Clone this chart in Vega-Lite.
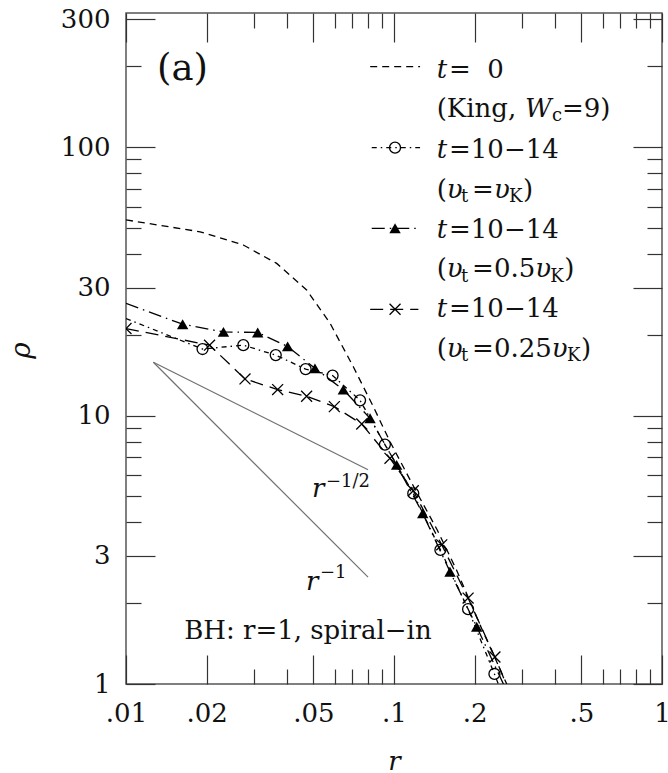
{
  "$schema": "https://vega.github.io/schema/vega-lite/v6.json",
  "width": 536,
  "height": 671,
  "autosize": {"type": "none"},
  "padding": {"left": 126, "top": 13, "right": 6, "bottom": 89},
  "background": "white",
  "config": {
    "view": {"stroke": "#555555", "strokeWidth": 1.5},
    "axis": {"grid": false, "domain": false}
  },
  "datasets": {
    "curves": [
      {"s": "t0", "p": "d", "x": 0.01, "y": 53.6, "m": 0},
      {"s": "t0", "p": "d", "x": 0.0189, "y": 48.4, "m": 0},
      {"s": "t0", "p": "d", "x": 0.0274, "y": 43.2, "m": 0},
      {"s": "t0", "p": "d", "x": 0.0365, "y": 36.9, "m": 0},
      {"s": "t0", "p": "d", "x": 0.0472, "y": 29.4, "m": 0},
      {"s": "t0", "p": "d", "x": 0.0577, "y": 22.1, "m": 0},
      {"s": "t0", "p": "d", "x": 0.0705, "y": 15.2, "m": 0},
      {"s": "t0", "p": "d", "x": 0.0837, "y": 10.8, "m": 0},
      {"s": "t0", "p": "d", "x": 0.0966, "y": 8.0, "m": 0},
      {"s": "t0", "p": "d", "x": 0.12, "y": 5.3, "m": 0},
      {"s": "t0", "p": "d", "x": 0.145, "y": 3.75, "m": 0},
      {"s": "t0", "p": "d", "x": 0.1714, "y": 2.65, "m": 0},
      {"s": "t0", "p": "d", "x": 0.21, "y": 1.65, "m": 0},
      {"s": "t0", "p": "d", "x": 0.2634, "y": 1.0, "m": 0},
      {"s": "t0", "p": "k", "x": 0.0815, "y": 199.5, "m": 0},
      {"s": "t0", "p": "k", "x": 0.1251, "y": 199.5, "m": 0},

      {"s": "circ", "p": "d", "x": 0.01, "y": 23.0, "m": 0},
      {"s": "circ", "p": "d", "x": 0.0193, "y": 17.7, "m": 1},
      {"s": "circ", "p": "d", "x": 0.0274, "y": 18.3, "m": 1},
      {"s": "circ", "p": "d", "x": 0.0362, "y": 16.8, "m": 1},
      {"s": "circ", "p": "d", "x": 0.0468, "y": 14.9, "m": 1},
      {"s": "circ", "p": "d", "x": 0.059, "y": 14.1, "m": 1},
      {"s": "circ", "p": "d", "x": 0.0747, "y": 11.4, "m": 1},
      {"s": "circ", "p": "d", "x": 0.0925, "y": 7.8, "m": 1},
      {"s": "circ", "p": "d", "x": 0.118, "y": 5.13, "m": 1},
      {"s": "circ", "p": "d", "x": 0.149, "y": 3.16, "m": 1},
      {"s": "circ", "p": "d", "x": 0.189, "y": 1.9, "m": 1},
      {"s": "circ", "p": "d", "x": 0.237, "y": 1.09, "m": 1},
      {"s": "circ", "p": "d", "x": 0.245, "y": 1.0, "m": 0},
      {"s": "circ", "p": "k", "x": 0.0826, "y": 99.57, "m": 0},
      {"s": "circ", "p": "k", "x": 0.1009, "y": 99.57, "m": 1},
      {"s": "circ", "p": "k", "x": 0.1251, "y": 99.57, "m": 0},

      {"s": "tri", "p": "d", "x": 0.01, "y": 26.2, "m": 0},
      {"s": "tri", "p": "d", "x": 0.01627, "y": 21.9, "m": 1},
      {"s": "tri", "p": "d", "x": 0.0231, "y": 20.5, "m": 1},
      {"s": "tri", "p": "d", "x": 0.031, "y": 20.4, "m": 1},
      {"s": "tri", "p": "d", "x": 0.0401, "y": 18.1, "m": 1},
      {"s": "tri", "p": "d", "x": 0.0507, "y": 15.0, "m": 1},
      {"s": "tri", "p": "d", "x": 0.0647, "y": 12.5, "m": 1},
      {"s": "tri", "p": "d", "x": 0.0814, "y": 9.77, "m": 1},
      {"s": "tri", "p": "d", "x": 0.1023, "y": 6.55, "m": 1},
      {"s": "tri", "p": "d", "x": 0.128, "y": 4.32, "m": 1},
      {"s": "tri", "p": "d", "x": 0.1618, "y": 2.62, "m": 1},
      {"s": "tri", "p": "d", "x": 0.2035, "y": 1.635, "m": 1},
      {"s": "tri", "p": "d", "x": 0.256, "y": 1.0, "m": 0},
      {"s": "tri", "p": "k", "x": 0.0826, "y": 49.87, "m": 0},
      {"s": "tri", "p": "k", "x": 0.1009, "y": 49.87, "m": 1},
      {"s": "tri", "p": "k", "x": 0.1251, "y": 49.87, "m": 0},

      {"s": "cross", "p": "d", "x": 0.01, "y": 21.1, "m": 1},
      {"s": "cross", "p": "d", "x": 0.0205, "y": 18.3, "m": 1},
      {"s": "cross", "p": "d", "x": 0.0278, "y": 13.7, "m": 1},
      {"s": "cross", "p": "d", "x": 0.0368, "y": 12.5, "m": 1},
      {"s": "cross", "p": "d", "x": 0.0472, "y": 11.8, "m": 1},
      {"s": "cross", "p": "d", "x": 0.0599, "y": 10.8, "m": 1},
      {"s": "cross", "p": "d", "x": 0.0758, "y": 9.3, "m": 1},
      {"s": "cross", "p": "d", "x": 0.0966, "y": 6.93, "m": 1},
      {"s": "cross", "p": "d", "x": 0.118, "y": 5.25, "m": 1},
      {"s": "cross", "p": "d", "x": 0.1507, "y": 3.3, "m": 1},
      {"s": "cross", "p": "d", "x": 0.189, "y": 2.09, "m": 1},
      {"s": "cross", "p": "d", "x": 0.238, "y": 1.26, "m": 1},
      {"s": "cross", "p": "d", "x": 0.262, "y": 1.0, "m": 0},
      {"s": "cross", "p": "k", "x": 0.0815, "y": 24.89, "m": 0},
      {"s": "cross", "p": "k", "x": 0.1009, "y": 24.89, "m": 1},
      {"s": "cross", "p": "k", "x": 0.1233, "y": 24.89, "m": 0}
    ],
    "power": [
      {"name": "half", "x": 0.01265, "y": 15.8},
      {"name": "half", "x": 0.08, "y": 6.28},
      {"name": "one", "x": 0.01265, "y": 15.8},
      {"name": "one", "x": 0.08, "y": 2.5}
    ],
    "notes": [
      {"k": "it", "t": "t", "x": 0.14434, "y": 181.8},
      {"k": "rm", "t": "=", "x": 0.16044, "y": 181.8},
      {"k": "rm", "t": "0", "x": 0.22291, "y": 181.8},
      {"k": "rm", "t": "(King,", "x": 0.14434, "y": 129.6},
      {"k": "it", "t": "W", "x": 0.30819, "y": 129.6},
      {"k": "sm", "t": "c", "x": 0.38848, "y": 124.7},
      {"k": "rm", "t": "=9)", "x": 0.42344, "y": 129.6},

      {"k": "it", "t": "t", "x": 0.14434, "y": 91.15},
      {"k": "rm", "t": "=10−14", "x": 0.16044, "y": 91.15},
      {"k": "rm", "t": "(", "x": 0.14434, "y": 64.78},
      {"k": "it", "t": "υ", "x": 0.1573, "y": 64.78},
      {"k": "sm", "t": "t", "x": 0.17783, "y": 62.33},
      {"k": "rm", "t": "=", "x": 0.19546, "y": 64.78},
      {"k": "it", "t": "υ", "x": 0.23604, "y": 64.78},
      {"k": "sm", "t": "K", "x": 0.26855, "y": 62.33},
      {"k": "rm", "t": ")", "x": 0.30295, "y": 64.78},

      {"k": "it", "t": "t", "x": 0.14434, "y": 45.69},
      {"k": "rm", "t": "=10−14", "x": 0.16044, "y": 45.69},
      {"k": "rm", "t": "(", "x": 0.14434, "y": 32.75},
      {"k": "it", "t": "υ", "x": 0.1573, "y": 32.75},
      {"k": "sm", "t": "t", "x": 0.17783, "y": 31.51},
      {"k": "rm", "t": "=", "x": 0.19546, "y": 32.75},
      {"k": "rm", "t": "0.5", "x": 0.23604, "y": 32.75},
      {"k": "it", "t": "υ", "x": 0.33659, "y": 32.75},
      {"k": "sm", "t": "K", "x": 0.38311, "y": 31.51},
      {"k": "rm", "t": ")", "x": 0.43189, "y": 32.75},

      {"k": "it", "t": "t", "x": 0.14434, "y": 23.2},
      {"k": "rm", "t": "=10−14", "x": 0.16044, "y": 23.2},
      {"k": "rm", "t": "(", "x": 0.14434, "y": 16.58},
      {"k": "it", "t": "υ", "x": 0.1573, "y": 16.58},
      {"k": "sm", "t": "t", "x": 0.17783, "y": 15.95},
      {"k": "rm", "t": "=", "x": 0.19546, "y": 16.58},
      {"k": "rm", "t": "0.25", "x": 0.23604, "y": 16.58},
      {"k": "it", "t": "υ", "x": 0.38815, "y": 16.58},
      {"k": "sm", "t": "K", "x": 0.44164, "y": 15.95},
      {"k": "rm", "t": ")", "x": 0.49832, "y": 16.58},

      {"k": "it", "t": "r", "x": 0.04943, "y": 4.975},
      {"k": "sm", "t": "−1/2", "x": 0.05576, "y": 5.42},
      {"k": "it", "t": "r", "x": 0.04694, "y": 2.24},
      {"k": "sm", "t": "−1", "x": 0.05296, "y": 2.483},

      {"k": "big", "t": "(a)", "x": 0.01305, "y": 178.0},
      {"k": "bh", "t": "BH: r=1, spiral−in", "x": 0.1382, "y": 1.467}
    ]
  },
  "resolve": {"axis": {"x": "independent", "y": "independent"}},
  "layer": [
    {
      "data": {"name": "curves"},
      "mark": {"type": "line", "clip": true, "color": "black", "strokeWidth": 1.3},
      "encoding": {
        "x": {"field": "x", "type": "quantitative",
          "scale": {"type": "log", "domain": [0.01, 1], "nice": false},
          "axis": {"orient": "bottom", "values": [0.01, 0.02, 0.05, 0.1, 0.2, 0.5, 1],
            "ticks": false, "tickSize": 0,
            "labelExpr": "datum.value >= 1 ? '1' : substring(toString(datum.value), 1)",
            "labelFont": "DejaVu Serif", "labelFontSize": 26, "labelColor": "#111111",
            "labelPadding": 16.5, "labelFlush": false, "labelOverlap": false, "labelBound": false,
            "title": "r", "titleFont": "DejaVu Serif", "titleFontStyle": "italic", "titleFontSize": 26,
            "titleFontWeight": "normal", "titleColor": "#111111",
            "titleX": 268, "titleY": 85.5, "titleAlign": "center", "titleBaseline": "alphabetic"}},
        "y": {"field": "y", "type": "quantitative",
          "scale": {"type": "log", "domain": [1, 316.2], "nice": false},
          "axis": {"orient": "left", "values": [1, 3, 10, 30, 100, 300],
            "ticks": false, "tickSize": 0,
            "labelExpr": "format(datum.value, 'd')",
            "labelFont": "DejaVu Serif", "labelFontSize": 26, "labelColor": "#111111",
            "labelPadding": 16, "labelFlush": false, "labelOverlap": false, "labelBound": false,
            "title": "ρ", "titleFont": "DejaVu Serif", "titleFontStyle": "italic", "titleFontSize": 28,
            "titleFontWeight": "normal", "titleColor": "#111111", "titleAngle": -90,
            "titleX": -97, "titleY": 337, "titleAlign": "center", "titleBaseline": "alphabetic"}},
        "strokeDash": {"field": "s", "type": "nominal",
          "scale": {"domain": ["t0", "circ", "tri", "cross"],
            "range": [[7, 5], [5, 4, 1.5, 4], [13, 5, 1.5, 5], [13, 7]]},
          "legend": null},
        "detail": {"field": "p"}
      }
    },
    {
      "data": {"name": "curves"},
      "transform": [{"filter": "datum.m == 1 && datum.s == 'circ'"}],
      "mark": {"type": "point", "shape": "circle", "filled": false, "stroke": "black", "strokeWidth": 1.3, "size": 120, "opacity": 1},
      "encoding": {
        "x": {"field": "x", "type": "quantitative",
          "scale": {"type": "log", "domain": [0.01, 1], "nice": false},
          "axis": {"orient": "bottom", "values": [0.01, 0.02, 0.05, 0.1, 0.2, 0.5, 1],
            "labels": false, "ticks": true, "tickSize": -29, "tickColor": "#333333", "tickWidth": 1.2, "title": null}},
        "y": {"field": "y", "type": "quantitative",
          "scale": {"type": "log", "domain": [1, 316.2], "nice": false},
          "axis": {"orient": "left", "values": [1, 3, 10, 30, 100, 300],
            "labels": false, "ticks": true, "tickSize": -29, "tickColor": "#333333", "tickWidth": 1.2, "title": null}}
      }
    },
    {
      "data": {"name": "curves"},
      "transform": [{"filter": "datum.m == 1 && datum.s == 'tri'"}],
      "mark": {"type": "point", "shape": "triangle-up", "filled": true, "fill": "black", "size": 130, "opacity": 1, "strokeWidth": 0},
      "encoding": {
        "x": {"field": "x", "type": "quantitative",
          "scale": {"type": "log", "domain": [0.01, 1], "nice": false},
          "axis": {"orient": "bottom", "values": [0.03, 0.04, 0.06, 0.07, 0.08, 0.09, 0.3, 0.4, 0.6, 0.7, 0.8, 0.9],
            "labels": false, "ticks": true, "tickSize": -15, "tickColor": "#333333", "tickWidth": 1.2, "title": null}},
        "y": {"field": "y", "type": "quantitative",
          "scale": {"type": "log", "domain": [1, 316.2], "nice": false},
          "axis": {"orient": "left", "values": [2, 4, 5, 6, 7, 8, 9, 20, 40, 50, 60, 70, 80, 90, 200],
            "labels": false, "ticks": true, "tickSize": -15, "tickColor": "#333333", "tickWidth": 1.2, "title": null}}
      }
    },
    {
      "data": {"name": "curves"},
      "transform": [{"filter": "datum.m == 1 && datum.s == 'cross'"}],
      "mark": {"type": "point", "shape": "M-1,-1L1,1M-1,1L1,-1", "filled": false, "stroke": "black", "strokeWidth": 1.3, "size": 120, "opacity": 1, "clip": true},
      "encoding": {
        "x": {"field": "x", "type": "quantitative",
          "scale": {"type": "log", "domain": [0.01, 1], "nice": false},
          "axis": {"orient": "top", "values": [0.01, 0.02, 0.05, 0.1, 0.2, 0.5, 1],
            "labels": false, "ticks": true, "tickSize": -29, "tickColor": "#333333", "tickWidth": 1.2, "title": null}},
        "y": {"field": "y", "type": "quantitative",
          "scale": {"type": "log", "domain": [1, 316.2], "nice": false},
          "axis": {"orient": "right", "values": [1, 3, 10, 30, 100, 300],
            "labels": false, "ticks": true, "tickSize": -29, "tickColor": "#333333", "tickWidth": 1.2, "title": null}}
      }
    },
    {
      "data": {"name": "power"},
      "mark": {"type": "line", "color": "#707070", "strokeWidth": 1.2},
      "encoding": {
        "x": {"field": "x", "type": "quantitative",
          "scale": {"type": "log", "domain": [0.01, 1], "nice": false},
          "axis": {"orient": "top", "values": [0.03, 0.04, 0.06, 0.07, 0.08, 0.09, 0.3, 0.4, 0.6, 0.7, 0.8, 0.9],
            "labels": false, "ticks": true, "tickSize": -15, "tickColor": "#333333", "tickWidth": 1.2, "title": null}},
        "y": {"field": "y", "type": "quantitative",
          "scale": {"type": "log", "domain": [1, 316.2], "nice": false},
          "axis": {"orient": "right", "values": [2, 4, 5, 6, 7, 8, 9, 20, 40, 50, 60, 70, 80, 90, 200],
            "labels": false, "ticks": true, "tickSize": -15, "tickColor": "#333333", "tickWidth": 1.2, "title": null}},
        "detail": {"field": "name"}
      }
    },
    {
      "data": {"name": "notes"},
      "transform": [{"filter": "datum.k == 'rm'"}],
      "mark": {"type": "text", "font": "DejaVu Serif", "fontSize": 26, "align": "left", "baseline": "alphabetic", "color": "#111111"},
      "encoding": {
        "x": {"field": "x", "type": "quantitative", "scale": {"type": "log", "domain": [0.01, 1], "nice": false}, "axis": null},
        "y": {"field": "y", "type": "quantitative", "scale": {"type": "log", "domain": [1, 316.2], "nice": false}, "axis": null},
        "text": {"field": "t"}
      }
    },
    {
      "data": {"name": "notes"},
      "transform": [{"filter": "datum.k == 'it'"}],
      "mark": {"type": "text", "font": "DejaVu Serif", "fontStyle": "italic", "fontSize": 26, "align": "left", "baseline": "alphabetic", "color": "#111111"},
      "encoding": {
        "x": {"field": "x", "type": "quantitative", "scale": {"type": "log", "domain": [0.01, 1], "nice": false}, "axis": null},
        "y": {"field": "y", "type": "quantitative", "scale": {"type": "log", "domain": [1, 316.2], "nice": false}, "axis": null},
        "text": {"field": "t"}
      }
    },
    {
      "data": {"name": "notes"},
      "transform": [{"filter": "datum.k == 'sm'"}],
      "mark": {"type": "text", "font": "DejaVu Serif", "fontSize": 18, "align": "left", "baseline": "alphabetic", "color": "#111111"},
      "encoding": {
        "x": {"field": "x", "type": "quantitative", "scale": {"type": "log", "domain": [0.01, 1], "nice": false}, "axis": null},
        "y": {"field": "y", "type": "quantitative", "scale": {"type": "log", "domain": [1, 316.2], "nice": false}, "axis": null},
        "text": {"field": "t"}
      }
    },
    {
      "data": {"name": "notes"},
      "transform": [{"filter": "datum.k == 'big'"}],
      "mark": {"type": "text", "font": "DejaVu Serif", "fontSize": 37, "align": "left", "baseline": "alphabetic", "color": "#111111"},
      "encoding": {
        "x": {"field": "x", "type": "quantitative", "scale": {"type": "log", "domain": [0.01, 1], "nice": false}, "axis": null},
        "y": {"field": "y", "type": "quantitative", "scale": {"type": "log", "domain": [1, 316.2], "nice": false}, "axis": null},
        "text": {"field": "t"}
      }
    },
    {
      "data": {"name": "notes"},
      "transform": [{"filter": "datum.k == 'bh'"}],
      "mark": {"type": "text", "font": "DejaVu Serif", "fontSize": 26, "align": "right", "baseline": "alphabetic", "color": "#111111"},
      "encoding": {
        "x": {"field": "x", "type": "quantitative", "scale": {"type": "log", "domain": [0.01, 1], "nice": false}, "axis": null},
        "y": {"field": "y", "type": "quantitative", "scale": {"type": "log", "domain": [1, 316.2], "nice": false}, "axis": null},
        "text": {"field": "t"}
      }
    }
  ]
}
